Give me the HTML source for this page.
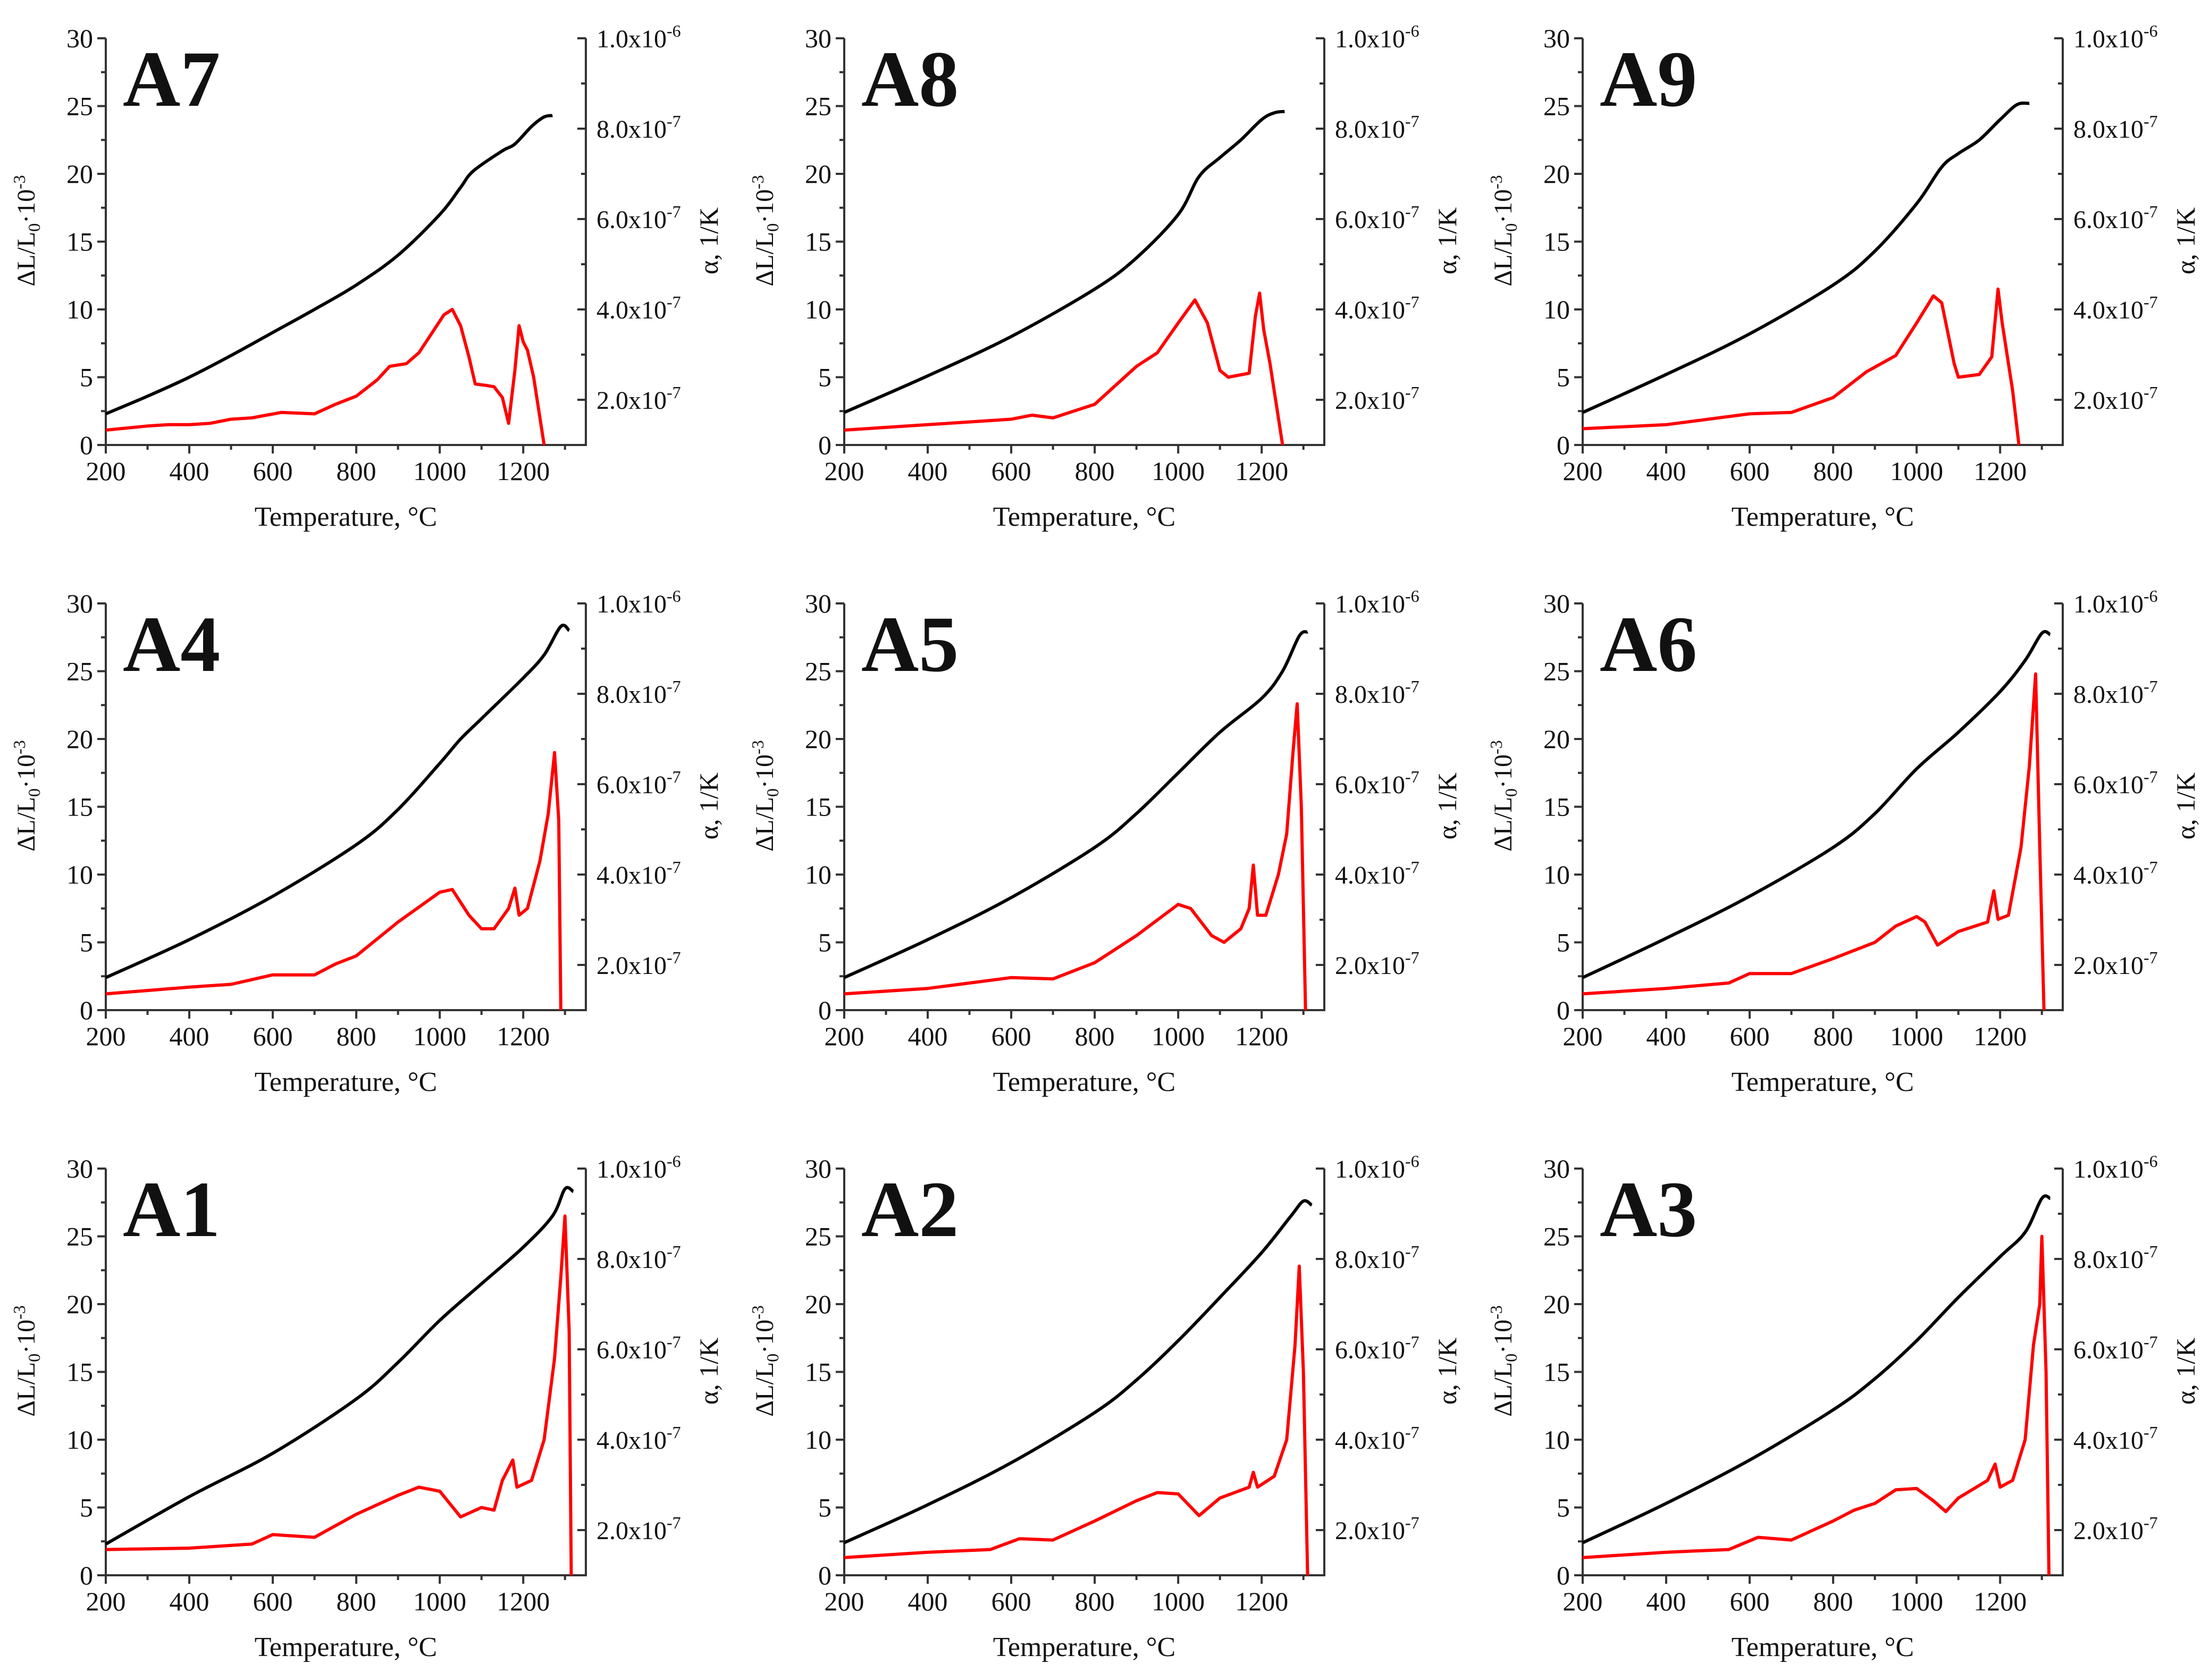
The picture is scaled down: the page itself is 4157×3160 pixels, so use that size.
<!DOCTYPE html>
<html><head><meta charset="utf-8">
<style>
html,body{margin:0;padding:0;background:#fff;}
svg{display:block;}
text{font-family:"Liberation Serif",serif;fill:#111;}
</style></head>
<body>
<svg id="chart" width="4157" height="3160" viewBox="0 0 4157 3160" xmlns="http://www.w3.org/2000/svg"></svg>
<script>
// ---- data ----
const panelNames = ["A7","A8","A9","A4","A5","A6","A1","A2","A3"];
const xTicks = [200,400,600,800,1000,1200];
const leftTicks = [0,5,10,15,20,25,30];
const rightTickVals = [2,4,6,8,10];
const rightTickLabels = ["2.0x10","4.0x10","6.0x10","8.0x10","1.0x10"];
const rightTickExps = ["-7","-7","-7","-7","-6"];

// black: dL/L0 (x10^-3), red: alpha (x10^-7 1/K)
const blackT_A7 = [200,300,400,500,600,700,800,900,1000,1050,1080,1150,1180,1220,1250,1270];
const blackV_A7 = [2.3,3.6,5.0,6.6,8.3,10.0,11.8,14.0,17.0,19.0,20.2,21.7,22.2,23.5,24.2,24.3];
const redT_A7 = [200,300,350,400,450,500,550,620,700,750,800,850,880,920,950,980,1010,1030,1050,1070,1085,1110,1130,1150,1165,1180,1190,1200,1210,1225,1250];
const redV_A7 = [1.33,1.42,1.45,1.45,1.48,1.57,1.6,1.72,1.69,1.9,2.08,2.44,2.74,2.8,3.04,3.46,3.88,4.0,3.64,2.95,2.35,2.32,2.29,2.05,1.48,2.65,3.64,3.28,3.1,2.5,1.0];

const blackT_A8 = [200,400,600,800,900,1000,1050,1100,1150,1200,1230,1255];
const blackV_A8 = [2.4,5.1,8.0,11.5,13.8,17.0,19.8,21.2,22.5,24.0,24.5,24.6];
const redT_A8 = [200,400,600,650,700,800,900,950,1000,1040,1070,1100,1120,1170,1185,1195,1205,1220,1250];
const redV_A8 = [1.33,1.45,1.57,1.66,1.6,1.9,2.74,3.04,3.7,4.21,3.7,2.65,2.5,2.59,3.85,4.36,3.55,2.8,1.0];

const blackT_A9 = [200,400,600,800,900,1000,1060,1100,1150,1200,1240,1270];
const blackV_A9 = [2.4,5.2,8.2,11.8,14.3,17.8,20.5,21.5,22.5,24.0,25.1,25.2];
const redT_A9 = [200,400,600,700,800,880,950,1000,1040,1060,1090,1100,1150,1180,1195,1205,1230,1245];
const redV_A9 = [1.36,1.45,1.69,1.72,2.05,2.62,2.98,3.7,4.3,4.15,2.8,2.5,2.56,2.95,4.45,3.7,2.2,1.0];

const blackT_A4 = [200,400,600,800,900,1000,1050,1100,1200,1250,1290,1310];
const blackV_A4 = [2.4,5.2,8.4,12.2,14.8,18.2,20.0,21.5,24.5,26.2,28.3,28.0];
const redT_A4 = [200,400,500,600,700,750,800,900,1000,1030,1070,1100,1130,1165,1180,1190,1210,1240,1260,1275,1285,1290];
const redV_A4 = [1.36,1.51,1.57,1.78,1.78,2.02,2.2,2.95,3.61,3.67,3.1,2.8,2.8,3.25,3.7,3.1,3.25,4.3,5.35,6.7,5.2,1.0];

const blackT_A5 = [200,400,600,800,900,1000,1100,1200,1250,1290,1310];
const blackV_A5 = [2.4,5.2,8.3,12.0,14.5,17.5,20.5,23.0,25.0,27.6,27.9];
const redT_A5 = [200,400,600,700,800,900,1000,1030,1080,1110,1150,1170,1180,1190,1210,1240,1260,1275,1285,1295,1305];
const redV_A5 = [1.36,1.48,1.72,1.69,2.05,2.65,3.34,3.25,2.65,2.5,2.8,3.25,4.21,3.1,3.1,4.0,4.9,6.7,7.78,5.5,1.0];

const blackT_A6 = [200,400,600,800,900,1000,1100,1200,1260,1300,1320];
const blackV_A6 = [2.4,5.3,8.4,12.0,14.5,17.8,20.5,23.5,25.8,27.8,27.7];
const redT_A6 = [200,400,550,600,700,800,900,950,1000,1020,1050,1100,1170,1185,1195,1220,1250,1270,1285,1295,1305];
const redV_A6 = [1.36,1.48,1.6,1.81,1.81,2.14,2.5,2.86,3.07,2.95,2.44,2.74,2.95,3.64,3.01,3.1,4.6,6.4,8.44,4.6,1.0];

const blackT_A1 = [200,400,600,800,900,1000,1100,1200,1270,1300,1320];
const blackV_A1 = [2.3,5.8,9.0,13.0,15.7,18.8,21.5,24.2,26.5,28.5,28.3];
const redT_A1 = [200,400,550,600,700,800,900,950,1000,1050,1100,1130,1150,1175,1185,1220,1250,1275,1290,1300,1310,1315];
const redV_A1 = [1.57,1.6,1.69,1.9,1.84,2.35,2.77,2.95,2.86,2.29,2.5,2.44,3.1,3.55,2.95,3.1,4.0,5.8,7.6,8.95,6.4,1.0];

const blackT_A2 = [200,400,600,800,900,1000,1100,1200,1270,1300,1320];
const blackV_A2 = [2.4,5.2,8.3,12.0,14.4,17.3,20.5,23.8,26.5,27.6,27.3];
const redT_A2 = [200,400,550,620,700,800,900,950,1000,1050,1100,1170,1180,1190,1230,1260,1280,1290,1300,1310];
const redV_A2 = [1.39,1.51,1.57,1.81,1.78,2.2,2.65,2.83,2.8,2.32,2.71,2.95,3.28,2.95,3.19,4.0,6.1,7.84,5.5,1.0];

const blackT_A3 = [200,400,600,800,900,1000,1100,1200,1260,1300,1320];
const blackV_A3 = [2.4,5.3,8.5,12.2,14.5,17.3,20.5,23.5,25.3,27.8,27.8];
const redT_A3 = [200,400,550,620,700,800,850,900,950,1000,1040,1070,1100,1170,1188,1200,1230,1260,1280,1295,1300,1310,1317];
const redV_A3 = [1.39,1.51,1.57,1.84,1.78,2.2,2.44,2.59,2.89,2.92,2.65,2.41,2.71,3.1,3.46,2.95,3.1,4.0,6.1,7.0,8.5,5.5,1.0];

const blackTs = [blackT_A7,blackT_A8,blackT_A9,blackT_A4,blackT_A5,blackT_A6,blackT_A1,blackT_A2,blackT_A3];
const blackVs = [blackV_A7,blackV_A8,blackV_A9,blackV_A4,blackV_A5,blackV_A6,blackV_A1,blackV_A2,blackV_A3];
const redTs = [redT_A7,redT_A8,redT_A9,redT_A4,redT_A5,redT_A6,redT_A1,redT_A2,redT_A3];
const redVs = [redV_A7,redV_A8,redV_A9,redV_A4,redV_A5,redV_A6,redV_A1,redV_A2,redV_A3];

// ---- layout ----
const NS = "http://www.w3.org/2000/svg";
const svg = document.getElementById("chart");
const colX = [199,1588,2977], rowY = [72,1135,2198];
const W = 903, H = 765;
const X0 = 200, X1 = 1350, YL1 = 30, YR0 = 1, YR1 = 10;

function mk(tag, attrs, parent){
  const e = document.createElementNS(NS, tag);
  for (const k in attrs) e.setAttribute(k, attrs[k]);
  parent.appendChild(e);
  return e;
}
function smoothPath(pts){
  let d = `M${pts[0][0].toFixed(1)},${pts[0][1].toFixed(1)}`;
  for (let k = 0; k < pts.length - 1; k++) {
    const p0 = pts[Math.max(k-1,0)], p1 = pts[k], p2 = pts[k+1], p3 = pts[Math.min(k+2,pts.length-1)];
    const c1x = p1[0] + (p2[0]-p0[0])/6, c1y = p1[1] + (p2[1]-p0[1])/6;
    const c2x = p2[0] - (p3[0]-p1[0])/6, c2y = p2[1] - (p3[1]-p1[1])/6;
    d += ` C${c1x.toFixed(1)},${c1y.toFixed(1)} ${c2x.toFixed(1)},${c2y.toFixed(1)} ${p2[0].toFixed(1)},${p2[1].toFixed(1)}`;
  }
  return d;
}

panelNames.forEach((name, i) => {
  const ox = colX[i%3], oy = rowY[Math.floor(i/3)];
  const sx = t => ox + (t - X0) / (X1 - X0) * W;
  const syL = v => oy + H - v / YL1 * H;
  const syR = v => oy + H - (v - YR0) / (YR1 - YR0) * H;

  const g = mk("g", {}, svg);
  
  

  const ax = mk("path", {d:`M${ox} ${oy} V${oy+H} H${ox+W} V${oy}`, fill:"none", stroke:"#333", "stroke-width":4}, g);
  
  

  for (let t = 200; t <= 1300; t += 100) {
    const major = t % 200 === 0;
    mk("line", {x1:sx(t), x2:sx(t), y1:oy+H, y2:oy+H+(major?16:9), stroke:"#333", "stroke-width":4}, g);
  }
  xTicks.forEach(t => {
    const tx = mk("text", {x:sx(t), y:oy+H+66, "font-size":50, "text-anchor":"middle"}, g);
    tx.textContent = t;
    
    
  });
  for (let v = 0; v <= 30; v += 2.5) {
    const major = v % 5 === 0;
    mk("line", {x1:ox-(major?16:9), x2:ox, y1:syL(v), y2:syL(v), stroke:"#333", "stroke-width":4}, g);
  }
  leftTicks.forEach(v => {
    const tx = mk("text", {x:ox-24, y:syL(v)+17, "font-size":50, "text-anchor":"end"}, g);
    tx.textContent = v;
    
    
  });
  for (let v = 1; v <= 10; v += 1) {
    const major = v % 2 === 0;
    mk("line", {x1:ox+W-(major?16:9), x2:ox+W, y1:syR(v), y2:syR(v), stroke:"#333", "stroke-width":4}, g);
  }
  rightTickVals.forEach((v, k) => {
    const tx = mk("text", {x:ox+W+20, y:syR(v)+17, "font-size":48}, g);
    tx.textContent = rightTickLabels[k];
    const sup = mk("tspan", {dy:-20, "font-size":32}, tx);
    sup.textContent = rightTickExps[k];
    
    
  });

  const xt = mk("text", {x:ox+W/2, y:oy+H+152, "font-size":52, "text-anchor":"middle"}, g);
  xt.textContent = "Temperature, °C";
  
  

  const lt = mk("text", {transform:`translate(${ox-134},${oy+362}) rotate(-90)`, "font-size":48, "text-anchor":"middle"}, g);
  lt.textContent = "ΔL/L";
  const s0 = mk("tspan", {dy:10, "font-size":32}, lt); s0.textContent = "0";
  const s1 = mk("tspan", {dy:-10}, lt); s1.textContent = "·10";
  const s2 = mk("tspan", {dy:-18, "font-size":32}, lt); s2.textContent = "-3";
  
  

  const rt = mk("text", {transform:`translate(${ox+W+248},${oy+381}) rotate(-90)`, "font-size":50, "text-anchor":"middle"}, g);
  rt.textContent = "α, 1/K";
  
  

  const pl = mk("text", {x:ox+32, y:oy+127, "font-size":150, "font-weight":"bold"}, g);
  pl.textContent = name;
  
  

  const bt = blackTs[i], bv = blackVs[i];
  const bl = mk("path", {d: smoothPath(bt.map((t,k)=>[sx(t), syL(bv[k])])), fill:"none", stroke:"#000", "stroke-width":6, "stroke-linejoin":"round"}, g);
  
  

  const rtT = redTs[i], rv = redVs[i];
  const rl = mk("polyline", {points: rtT.map((t,k)=>`${sx(t).toFixed(1)},${syR(rv[k]).toFixed(1)}`).join(" "), fill:"none", stroke:"#ff0000", "stroke-width":6, "stroke-linejoin":"round"}, g);
  
  
});
</script>
</body></html>
